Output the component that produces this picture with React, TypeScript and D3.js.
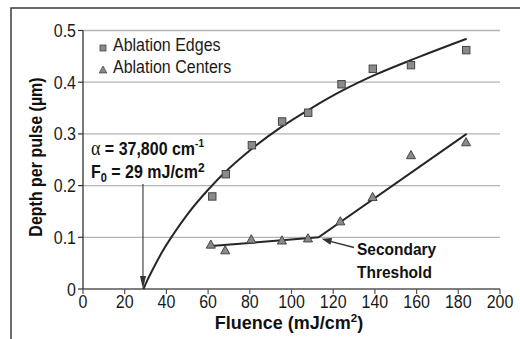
import React from "react";
import * as d3 from "d3";

const edgeFluence = [62, 68.5, 81, 95.5, 108, 124, 139, 157.3, 183.8];
const edgeDepth = [0.179, 0.222, 0.278, 0.324, 0.341, 0.396, 0.426, 0.433, 0.462];
const centerFluence = [61.3, 68.2, 80.7, 95.4, 107.9, 123.4, 138.9, 157.3, 183.7];
const centerDepth = [0.086, 0.075, 0.096, 0.094, 0.098, 0.131, 0.178, 0.259, 0.284];

// fitted curves as they appear on the figure
const fitFluence = [29, 31, 34, 38, 43, 50, 60, 70, 80, 95, 110, 125, 140, 160, 184];
const fitDepth = [0, 0.018, 0.042, 0.072, 0.104, 0.144, 0.192, 0.233, 0.268, 0.313, 0.351, 0.385, 0.414, 0.447, 0.484];
const thresholdFluence = [61.5, 113, 184];
const thresholdDepth = [0.083, 0.1, 0.3];

const xTicks = [0, 20, 40, 60, 80, 100, 120, 140, 160, 180, 200];
const yTicks = [0, 0.1, 0.2, 0.3, 0.4, 0.5];
const legendLabels = ["Ablation Edges", "Ablation Centers"];

const F0 = 29;
const knee = 113;

const font = "'Liberation Sans', Arial, Helvetica, sans-serif";
const markerFill = "#8a8a8a";
const markerStroke = "#454545";
const lineColor = "#262626";
const SY = 1.12; // the reference glyphs are a bit taller than plain Arial

function triangle(cx: number, cy: number, s: number) {
  const h = s * 0.9;
  return `M${cx},${cy - h / 2 - 1}L${cx + s / 2 + 0.5},${cy + h / 2}L${cx - s / 2 - 0.5},${cy + h / 2}Z`;
}

function T(props: any) {
  const { x, y, children, sy = SY, ...rest } = props;
  return (
    <text transform={`translate(${x},${y}) scale(1,${sy})`} {...rest}>
      {children}
    </text>
  );
}

export default function App() {
  const x = d3.scaleLinear().domain([0, 200]).range([83, 500]);
  const y = d3.scaleLinear().domain([0, 0.5]).range([289, 30.5]);

  const fitLine = d3
    .line<number>()
    .x((d) => x(d))
    .y((_, i) => y(fitDepth[i]))
    .curve(d3.curveMonotoneX);
  const thrLine = d3
    .line<number>()
    .x((d) => x(d))
    .y((_, i) => y(thresholdDepth[i]));

  const kneeX = x(knee);
  const kneeY = y(thresholdDepth[1]);

  const arrowHead = (() => {
    const tipX = kneeX + 3;
    const tipY = kneeY + 1.5;
    const ang = Math.atan2(247.5 - tipY, 354 - tipX);
    const len = 10;
    const w = 3.5;
    const bx = tipX + Math.cos(ang) * len;
    const by = tipY + Math.sin(ang) * len;
    const px = -Math.sin(ang) * w;
    const py = Math.cos(ang) * w;
    return `M${tipX},${tipY}L${bx + px},${by + py}L${bx - px},${by - py}Z`;
  })();

  return (
    <svg
      width={520}
      height={339}
      style={{ position: "absolute", left: 0, top: 0, background: "#fff" }}
      fontFamily={font}
    >
      {/* outer frame */}
      <path d="M11,339V8H520" fill="none" stroke="#3a3a3a" strokeWidth={1.5} />

      {/* gridlines */}
      {yTicks.slice(1).map((t) => (
        <line key={t} x1={x(0)} x2={x(200)} y1={y(t)} y2={y(t)} stroke="#b4b4b4" strokeWidth={1.3} />
      ))}

      {/* axes */}
      <line x1={x(0)} x2={x(200)} y1={y(0)} y2={y(0)} stroke="#555" strokeWidth={1.3} />
      <line x1={x(0)} x2={x(0)} y1={y(0.5)} y2={y(0)} stroke="#333" strokeWidth={1.3} />
      {yTicks.map((t) => (
        <g key={t}>
          <line x1={x(0) - 5} x2={x(0)} y1={y(t)} y2={y(t)} stroke="#333" strokeWidth={1.2} />
          <T x={76} y={y(t) + 6.5} textAnchor="end" fontSize={16} fill="#1a1a1a">
            {t === 0 ? "0" : d3.format(".1f")(t)}
          </T>
        </g>
      ))}
      {xTicks.map((t) => (
        <g key={t}>
          <line x1={x(t)} x2={x(t)} y1={y(0)} y2={y(0) + 5} stroke="#555" strokeWidth={1.2} />
          <T x={x(t)} y={308} textAnchor="middle" fontSize={16} fill="#1a1a1a">
            {t}
          </T>
        </g>
      ))}

      {/* axis titles */}
      <T x={289} y={329} sy={1} textAnchor="middle" fontSize={18} fontWeight="bold" fill="#111">
        Fluence (mJ/cm<tspan fontSize={11.5} dy={-7}>2</tspan>
        <tspan dy={7}>)</tspan>
      </T>
      <text
        transform={`translate(42,${157}) rotate(-90) scale(1,${SY})`}
        textAnchor="middle"
        fontSize={16}
        fontWeight="bold"
        fill="#111"
      >
        Depth per pulse (µm)
      </text>

      {/* fit curves */}
      <path d={fitLine(fitFluence) ?? ""} fill="none" stroke={lineColor} strokeWidth={2} />
      <path d={thrLine(thresholdFluence) ?? ""} fill="none" stroke={lineColor} strokeWidth={2} />

      {/* data markers */}
      {edgeFluence.map((f, i) => (
        <rect
          key={"e" + i}
          x={x(f) - 3.7}
          y={y(edgeDepth[i]) - 3.7}
          width={7.4}
          height={7.4}
          fill={markerFill}
          stroke={markerStroke}
          strokeWidth={1}
        />
      ))}
      {centerFluence.map((f, i) => (
        <path
          key={"c" + i}
          d={triangle(x(f), y(centerDepth[i]), 8)}
          fill={markerFill}
          stroke={markerStroke}
          strokeWidth={1}
        />
      ))}

      {/* legend */}
      <rect x={100} y={45} width={6} height={6} fill={markerFill} stroke={markerStroke} strokeWidth={0.8} />
      <T x={113} y={51} fontSize={16} fill="#1a1a1a">
        {legendLabels[0]}
      </T>
      <path d={triangle(103, 70, 6.5)} fill={markerFill} stroke={markerStroke} strokeWidth={0.8} />
      <T x={113} y={73} fontSize={16} fill="#1a1a1a">
        {legendLabels[1]}
      </T>

      {/* threshold annotation */}
      <T x={91} y={155} fontSize={16} fontWeight="bold" fill="#111">
        <tspan fontFamily="'Liberation Serif', serif" fontWeight="normal" fontSize={18}>
          α
        </tspan>
        <tspan> = 37,800 cm</tspan>
        <tspan fontSize={10} dy={-7}>-1</tspan>
      </T>
      <T x={91} y={178} fontSize={16} fontWeight="bold" fill="#111">
        F<tspan fontSize={11} dy={4}>0</tspan>
        <tspan dy={-4}> = 29 mJ/cm</tspan>
        <tspan fontSize={12} dy={-5}>2</tspan>
      </T>
      <line x1={x(F0) - 0.5} x2={x(F0) - 0.5} y1={184} y2={278} stroke="#444" strokeWidth={1.2} />
      <path d={`M${x(F0) - 3.5},${276}L${x(F0) + 2.5},${276}L${x(F0) - 0.5},${289}Z`} fill="#333" />

      {/* secondary threshold annotation */}
      <line x1={354} y1={247.5} x2={kneeX + 8} y2={kneeY + 3} stroke="#333" strokeWidth={1.3} />
      <path d={arrowHead} fill="#333" />
      <T x={357} y={255} fontSize={15.5} fontWeight="bold" fill="#111">
        Secondary
      </T>
      <T x={357} y={278} fontSize={15.5} fontWeight="bold" fill="#111">
        Threshold
      </T>
    </svg>
  );
}
